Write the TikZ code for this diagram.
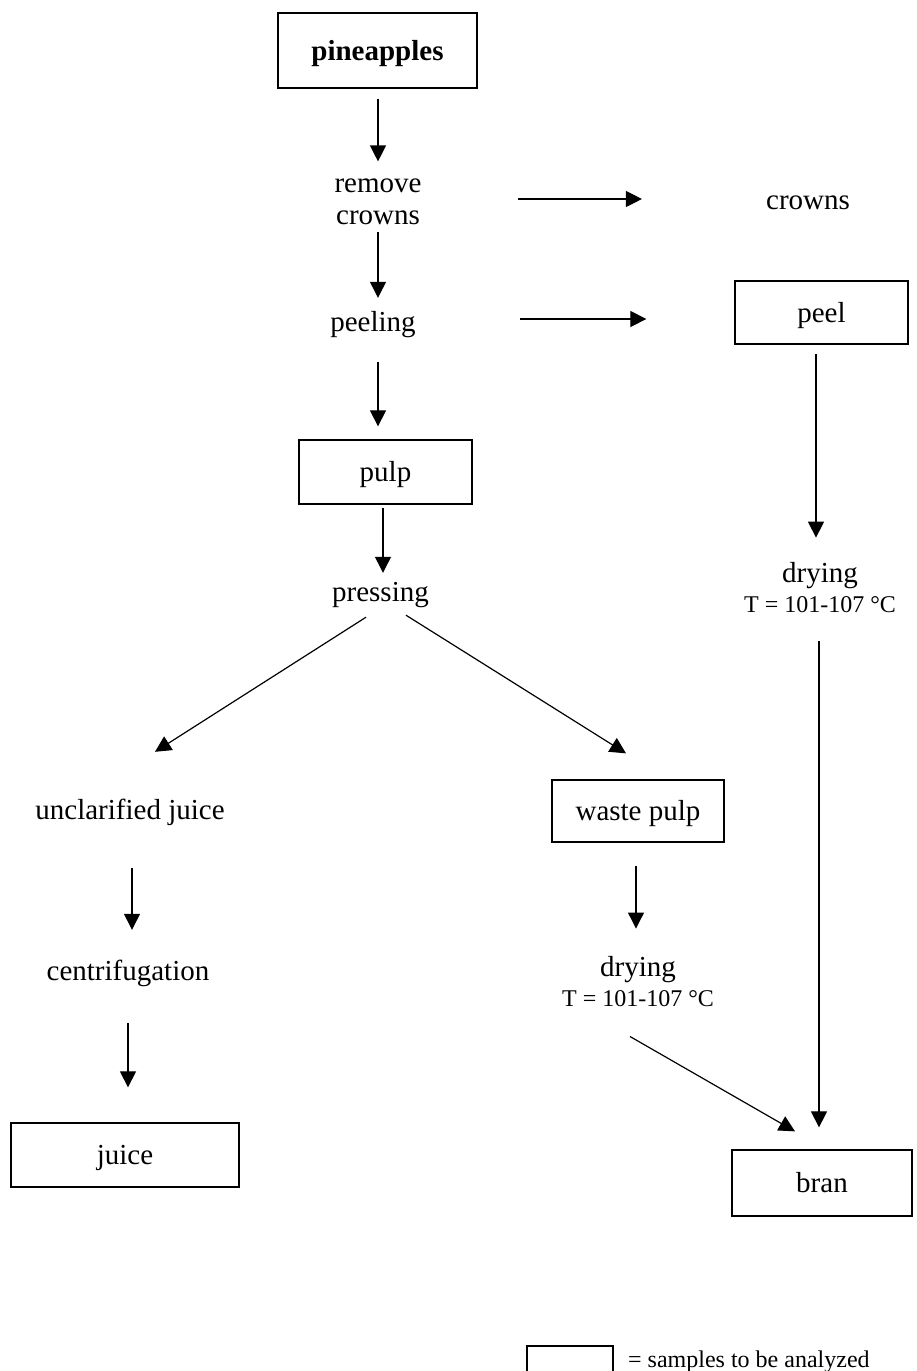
\documentclass[tikz,border=0pt]{standalone}
\usepackage{fontspec}
\setmainfont{Liberation Serif}
\usetikzlibrary{arrows.meta}
\begin{document}
\begin{tikzpicture}[x=1pt,y=-1pt,
  base/.style={inner sep=0pt,font=\fontsize{29}{30}\selectfont},
  lbl/.style={base,text height=23pt,text depth=4pt},
  twolbl/.style={base,align=center},
  box/.style={base,draw,line width=1.3pt,text height=23pt,text depth=4pt},
  arr/.style={line width=1.2pt,-{Triangle[width=16pt,length=16pt]}}]
\useasboundingbox (0,0) rectangle (916,1371);

% main line
\node[box,font=\fontsize{29}{30}\selectfont\bfseries,minimum width=199pt,minimum height=75pt] (pine) at (377.5,50.5) {pineapples};
\node[twolbl,font=\fontsize{29}{32}\selectfont] (remove) at (378,202) {remove\\crowns};
\node[lbl] (crowns) at (808,200) {crowns};
\node[lbl] (peeling) at (373,322) {peeling};
\node[box,minimum width=173pt,minimum height=63pt] (peel) at (821.5,312.5) {peel};
\node[box,minimum width=173pt,minimum height=64pt] (pulp) at (385.5,472) {pulp};
\node[lbl] (pressing) at (380.5,592) {pressing};

% juice branch
\node[lbl] (unclar) at (130,810) {unclarified juice};
\node[lbl] (centrif) at (128,971) {centrifugation};
\node[box,minimum width=228pt,minimum height=64pt] (juice) at (125,1155) {juice};

% waste pulp branch
\node[box,minimum width=172pt,minimum height=62pt] (waste) at (638,811) {waste pulp};
\node[twolbl] (dryL) at (638,981.2) {drying\\\fontsize{24}{30}\selectfont T = 101-107 °C};

% peel branch
\node[twolbl] (dryR) at (820,588) {drying\\\fontsize{24}{30}\selectfont T = 101-107 °C};
\node[box,minimum width=180pt,minimum height=66pt] (bran) at (822,1183) {bran};

% legend
\node[box,minimum width=86pt,minimum height=50pt] (legbox) at (570,1371) {};
\node[base,font=\fontsize{24}{28}\selectfont,anchor=base west] (legtext) at (628,1367) {= samples to be analyzed};

% connectors
\draw[arr] ([shift={(0.5,10)}]pine.south) -- ([shift={(0,-17.4)}]remove.north);
\draw[arr] ([shift={(0,7.3)}]remove.south) -- ([shift={(5,-10.5)}]peeling.north);
\draw[arr] ([shift={(96.5,-3)}]remove.east) -- ([shift={(-124,-1)}]crowns.west);
\draw[arr] ([shift={(104.3,-3)}]peeling.east) -- ([shift={(-88,6.5)}]peel.west);
\draw[arr] ([shift={(5,26.5)}]peeling.south) -- ([shift={(-7.5,-13)}]pulp.north);
\draw[arr] ([shift={(-2.5,3)}]pulp.south) -- ([shift={(2.5,-5.5)}]pressing.north);
\draw[arr] ([shift={(-14.5,11.5)}]pressing.south) -- ([shift={(25,-44.5)}]unclar.north);
\draw[arr] ([shift={(25.5,9.5)}]pressing.south) -- ([shift={(-12,-26)}]waste.north);
\draw[arr] ([shift={(-5.5,9)}]peel.south) -- ([shift={(-4,-25)}]dryR.north);
\draw[arr] ([shift={(2,44.5)}]unclar.south) -- ([shift={(4,-27.5)}]centrif.north);
\draw[arr] ([shift={(0,38.5)}]centrif.south) -- ([shift={(3,-35)}]juice.north);
\draw[arr] ([shift={(-2,23)}]waste.south) -- ([shift={(-2,-27.3)}]dryL.north);
\draw[arr] ([shift={(-8,29.9)}]dryL.south) -- ([shift={(-27,-18)}]bran.north);
\draw[arr] ([shift={(-1,28)}]dryR.south) -- ([shift={(-3,-22)}]bran.north);
\end{tikzpicture}
\end{document}
